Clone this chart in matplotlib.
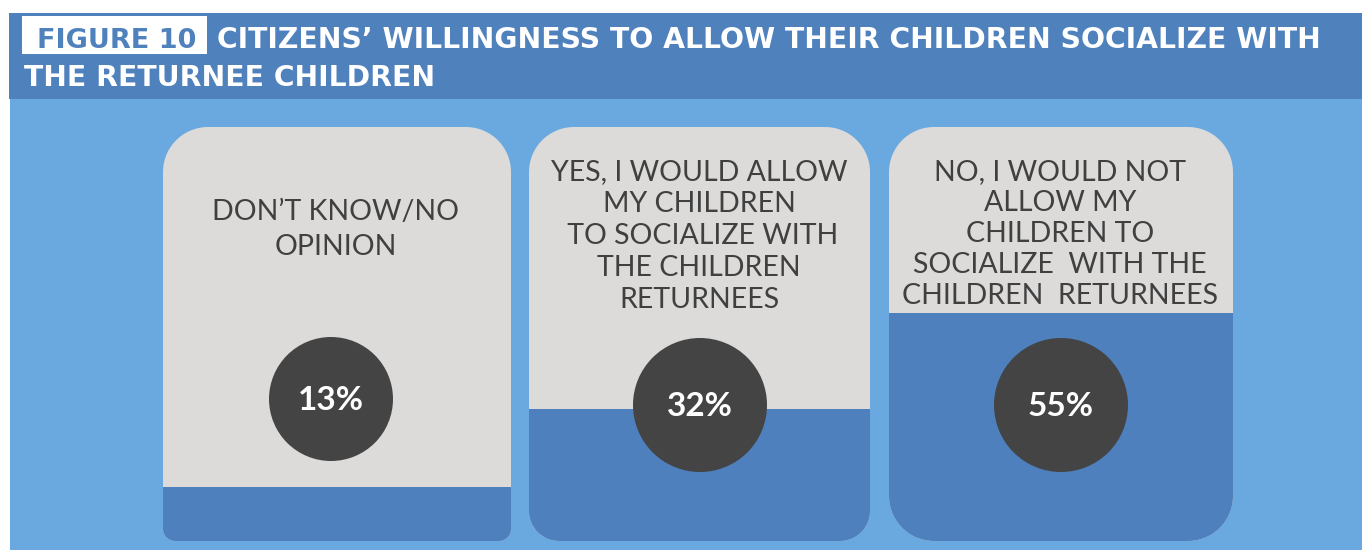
import matplotlib.pyplot as plt
import numpy as np
from matplotlib.patches import Rectangle, Circle, PathPatch
from matplotlib.path import Path

# data
categories = ["DON’T KNOW/NO OPINION",
              "YES, I WOULD ALLOW MY CHILDREN TO SOCIALIZE WITH THE CHILDREN RETURNEES",
              "NO, I WOULD NOT ALLOW MY CHILDREN TO SOCIALIZE WITH THE CHILDREN RETURNEES"]
label_lines = [["DON’T KNOW/NO", "OPINION"],
               ["YES, I WOULD ALLOW", "MY CHILDREN", " TO SOCIALIZE WITH", "THE CHILDREN", "RETURNEES"],
               ["NO, I WOULD NOT", "ALLOW MY", "CHILDREN TO", "SOCIALIZE  WITH THE", "CHILDREN  RETURNEES"]]
percents = [13, 32, 55]

title_tag = "FIGURE 10"
title_line1 = "CITIZENS’ WILLINGNESS TO ALLOW THEIR CHILDREN SOCIALIZE WITH"
title_line2 = "THE RETURNEE CHILDREN"

# colours
bar_blue = "#4f81bd"
bg_blue = "#6aa9df"
card_grey = "#dcdbda"
fill_blue = "#4e80bd"
circle_grey = "#444444"
text_grey = "#404040"

plt.rcParams['font.family'] = ['Lato', 'DejaVu Sans']

fig = plt.figure(figsize=(13.62, 5.5), dpi=100)
ax = fig.add_axes([0, 0, 1, 1])
ax.set_xlim(0, 1362)
ax.set_ylim(550, 0)
ax.axis('off')


def card_path(x0, y0, x1, y1, rt, rb):
    # rounded card: radius rt at the top corners, rb at the bottom ones
    pts = []
    t = np.linspace(0, np.pi / 2, 20)
    pts += list(zip(x0 + rt - rt * np.cos(t), y0 + rt - rt * np.sin(t)))
    pts += list(zip(x1 - rt + rt * np.sin(t), y0 + rt - rt * np.cos(t)))
    pts += list(zip(x1 - rb + rb * np.cos(t), y1 - rb + rb * np.sin(t)))
    pts += list(zip(x0 + rb - rb * np.sin(t), y1 - rb + rb * np.cos(t)))
    pts.append(pts[0])
    return Path(pts, closed=True)


# header and background
ax.add_patch(Rectangle((10, 99), 1352, 451, color=bg_blue, lw=0))
ax.add_patch(Rectangle((9, 13), 1353, 86, color=bar_blue, lw=0))
ax.add_patch(Rectangle((22, 16), 185, 38, color="white", lw=0))
title_font = dict(family=['DejaVu Sans'], fontsize=20.3, fontweight='bold')
ax.text(117, 48, title_tag, color=bar_blue, ha='center', va='baseline',
        family=['DejaVu Sans'], fontsize=19.5, fontweight='bold')
ax.text(217, 48, title_line1, color="white", ha='left', va='baseline', **title_font)
ax.text(24, 86, title_line2, color="white", ha='left', va='baseline', **title_font)

# cards
card_x = [(163, 511), (529, 870), (889, 1233)]
card_top, card_bottom = 127, 541
bottom_radius = [12, 30, 45]
text_center = [336, 699, 1060]
text_first = [220, 180, 180]
text_step = [35, 32, 31]
circle_xy = [(331, 399), (700, 405), (1061, 405)]
circle_r = [62, 67, 67]

for i in range(len(percents)):
    x0, x1 = card_x[i]
    path = card_path(x0, card_top, x1, card_bottom, 45, bottom_radius[i])
    card = PathPatch(path, facecolor=card_grey, edgecolor='none')
    ax.add_patch(card)
    h = (card_bottom - card_top) * percents[i] / 100
    fill = Rectangle((x0, card_bottom - h), x1 - x0, h, facecolor=fill_blue, lw=0)
    ax.add_patch(fill)
    fill.set_clip_path(card)
    for j, line in enumerate(label_lines[i]):
        ax.text(text_center[i], text_first[i] + j * text_step[i], line, color=text_grey,
                fontsize=20.5, fontweight='normal', ha='center', va='baseline')
    cx, cy = circle_xy[i]
    ax.add_patch(Circle((cx, cy), circle_r[i], color=circle_grey, lw=0))
    ax.text(cx, cy + 1, str(percents[i]) + "%", color="white", fontsize=24,
            fontweight='bold', ha='center', va='center')

fig.savefig("out.png", dpi=100)
